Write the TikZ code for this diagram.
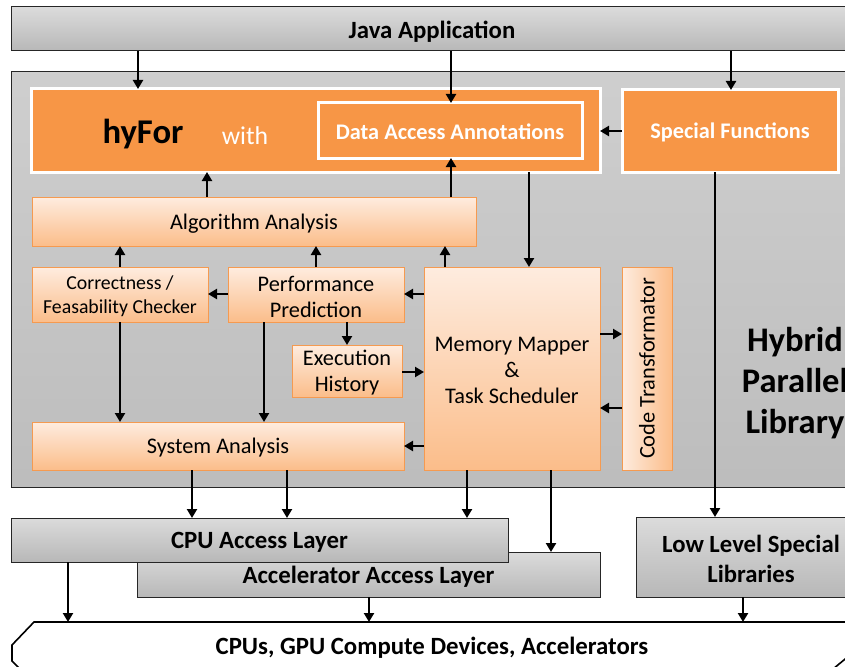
\documentclass[tikz,border=0pt]{standalone}
\usepackage{fontspec}
\setmainfont{Carlito}
\usetikzlibrary{arrows.meta}
\definecolor{orng}{HTML}{F79646}
\definecolor{ltop}{HTML}{FEECDF}
\definecolor{lbot}{HTML}{FBBD8A}
\definecolor{lbord}{HTML}{F59A50}
\tikzset{
  bx/.style={anchor=north west, inner sep=0pt, outer sep=0pt, align=center},
  graybox/.style={bx, draw=black!85, line width=1pt, top color=black!14, bottom color=black!28},
  obox/.style={bx, draw=white, line width=3pt, fill=orng},
  lbox/.style={bx, draw=lbord, line width=1pt, top color=ltop, bottom color=lbot},
  ltx/.style={align=center, inner sep=0pt, yshift=-2pt, font=\fontsize{22.3}{26}\selectfont},
  otx/.style={align=center, inner sep=0pt, yshift=-1.5pt, text=white, font=\fontsize{22.3}{26}\selectfont\bfseries},
  gtx/.style={align=center, inner sep=0pt, yshift=-2pt, font=\fontsize{24.8}{29}\selectfont\bfseries},
  lt/.style={label={[ltx]center:{#1}}},
  ot/.style={label={[otx]center:{#1}}},
  gt/.style={label={[gtx]center:{#1}}},
  arr/.style={line width=2.8pt, -{Triangle[length=9pt,width=10pt]}},
}
\begin{document}
\begin{tikzpicture}[x=1pt,y=-1pt]
\useasboundingbox (0,0) rectangle (845,666);
\clip (0,0) rectangle (845,666);
\fill[white] (0,0) rectangle (845,666);
% top and container
\node[graybox, minimum width=850pt, minimum height=44pt] (java) at (11,7) {};
\node[gtx] (javat) at (432,30) {Java Application};
\node[bx, draw=black!85, line width=1pt, top color=black!19, bottom color=black!26, minimum width=850pt, minimum height=415pt] (cont) at (11,72) {};
% orange boxes
\node[obox, minimum width=569pt, minimum height=83pt] (hyfor) at (31,89) {};
\node[font=\fontsize{34.7}{38}\selectfont\bfseries] (hyfort) at (143,134) {hyFor};
\node[font=\fontsize{25.7}{28}\selectfont, text=white] (witht) at (245,136) {with};
\node[obox, minimum width=264pt, minimum height=55pt, ot={Data Access Annotations}] (daa) at (318,103) {};
\node[obox, minimum width=216pt, minimum height=82pt, ot={Special Functions}] (sf) at (622,90) {};
% light boxes
\node[lbox, minimum width=444pt, minimum height=49pt, lt={Algorithm Analysis}] (alg) at (32,197) {};
\node[lbox, minimum width=176pt, minimum height=55pt, label={[ltx, font=\fontsize{19.8}{24}\selectfont]center:{Correctness /\\Feasability Checker}}] (corr) at (32,267) {};
\node[lbox, minimum width=176pt, minimum height=55pt, lt={Performance\\Prediction}] (perf) at (228,267) {};
\node[lbox, minimum width=110pt, minimum height=52pt, lt={Execution\\History}] (exec) at (292,345) {};
\node[lbox, minimum width=176pt, minimum height=203pt, lt={Memory Mapper\\\&\\Task Scheduler}] (mm) at (424,267) {};
\node[bx, draw=lbord, line width=1pt, left color=ltop, right color=lbot, minimum width=50pt, minimum height=203pt] (ct) at (622,267) {};
\node[rotate=90, font=\fontsize{22.4}{26}\selectfont] (ctt) at (ct.center) {Code Transformator};
\node[lbox, minimum width=372pt, minimum height=48pt, lt={System Analysis}] (sys) at (32,422) {};
\node[font=\fontsize{34.5}{41}\selectfont\bfseries, align=center] (hpl) at (795,383) {Hybrid\\Parallel\\Library};
% lower layers
\node[graybox, minimum width=463pt, minimum height=45pt, gt={Accelerator Access Layer}] (acc) at (137,552) {};
\node[graybox, minimum width=497pt, minimum height=44pt, gt={CPU Access Layer}] (cpu) at (11,518) {};
\node[graybox, minimum width=230pt, minimum height=80pt, label={[gtx, font=\fontsize{24.7}{30}\selectfont\bfseries]center:{Low Level Special\\Libraries}}] (llsl) at (636,517) {};
% bottom shape
\draw[line width=1.6pt, fill=white] (12,645) -- (34,622) -- (880,622) -- (880,630) -- (815,684) -- (35,684) -- (12,661) -- cycle;
\coordinate (bottop) at (0,622);
\node[gtx] (hw) at (432,646) {CPUs, GPU Compute Devices, Accelerators};
% arrows
\draw[arr] (java.south -| 138,0) -- (hyfor.north -| 138,0);
\draw[arr] (java.south -| 451,0) -- (daa.north -| 451,0);
\draw[arr] (java.south -| 731,0) -- (sf.north -| 731,0);
\draw[arr] (sf.west) -- (sf.west -| hyfor.east);
\draw[arr] (alg.north -| 207,0) -- (hyfor.south -| 207,0);
\draw[arr] (alg.north -| 451,0) -- (daa.south -| 451,0);
\draw[arr] (hyfor.south -| 529,0) -- (mm.north -| 529,0);
\draw[arr] (sf.south -| 715,0) -- (llsl.north -| 715,0);
\draw[arr] (corr.north -| 120,0) -- (alg.south -| 120,0);
\draw[arr] (perf.north -| 316,0) -- (alg.south -| 316,0);
\draw[arr] (mm.north -| 445,0) -- (alg.south -| 445,0);
\draw[arr] (perf.west |- 0,294) -- (corr.east |- 0,294);
\draw[arr] (mm.west |- 0,294) -- (perf.east |- 0,294);
\draw[arr] (perf.south -| 347,0) -- (exec.north -| 347,0);
\draw[arr] (exec.east |- 0,372) -- (mm.west |- 0,372);
\draw[arr] (mm.east |- 0,334) -- (ct.west |- 0,334);
\draw[arr] (ct.west |- 0,408) -- (mm.east |- 0,408);
\draw[arr] (mm.west |- 0,446) -- (sys.east |- 0,446);
\draw[arr] (corr.south -| 120,0) -- (sys.north -| 120,0);
\draw[arr] (perf.south -| 264,0) -- (sys.north -| 264,0);
\draw[arr] (sys.south -| 192,0) -- (cpu.north -| 192,0);
\draw[arr] (sys.south -| 287,0) -- (cpu.north -| 287,0);
\draw[arr] (mm.south -| 467,0) -- (cpu.north -| 467,0);
\draw[arr] (mm.south -| 551,0) -- (acc.north -| 551,0);
\draw[arr] (cpu.south -| 68,0) -- (bottop -| 68,0);
\draw[arr] (acc.south -| 369,0) -- (bottop -| 369,0);
\draw[arr] (llsl.south -| 743,0) -- (bottop -| 743,0);
\end{tikzpicture}
\end{document}
